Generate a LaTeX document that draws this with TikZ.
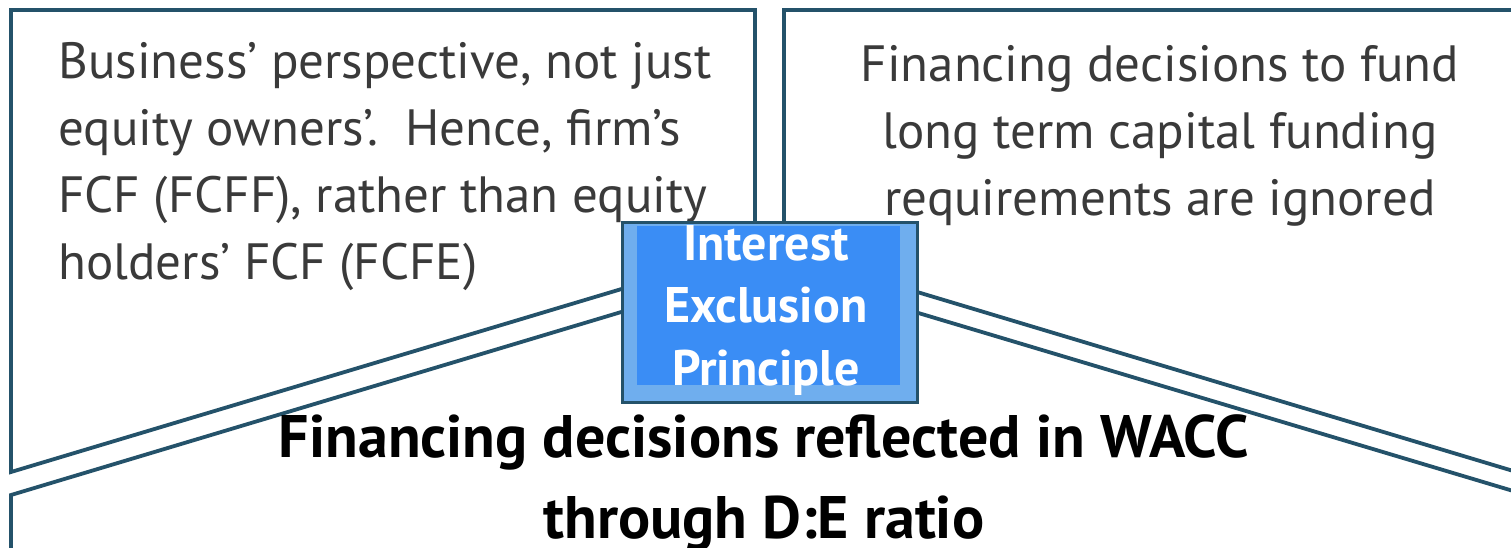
\documentclass[tikz,border=0pt]{standalone}
\usepackage{fontspec}
\setmainfont{PT Sans}
\definecolor{edge}{HTML}{24526A}
\definecolor{bodytext}{HTML}{3A3A3A}
\definecolor{bandblue}{HTML}{6FAEEE}
\definecolor{coreblue}{HTML}{3A8DF5}
\begin{document}
\begin{tikzpicture}[x=0.5pt,y=-0.5pt,
  panel/.style={draw=edge,line width=1.9pt,fill=white,line join=miter},
  bodytxt/.style={font=\fontsize{25.5}{33.5}\selectfont,text=bodytext,inner sep=0pt},
  headtxt/.style={font=\bfseries\fontsize{30}{40.5}\selectfont,text=black,inner sep=0pt,align=center},
  boxtxt/.style={font=\bfseries\fontsize{25}{31.25}\selectfont,text=white,inner sep=0pt,align=center}]
\useasboundingbox (0,0) rectangle (1511,547);
\clip (0,0) rectangle (1511,547);
% three panels converging under the centre box
\draw[panel] (11,10) -- (755,10) -- (755,249) -- (11,472) -- cycle;
\draw[panel] (784,10) -- (1540,10) -- (1540,479) -- (784,252) -- cycle;
\draw[panel] (11,580) -- (11,495) -- (768,268) -- (1540,499) -- (1540,580);
% panel texts (base anchor sits on the last line)
\node[bodytxt,anchor=base west,align=left] (owners) at (58,279)
  {Business’ perspective, not just\\equity owners’.\ \ Hence, firm’s\\FCF (FCFF), rather than equity\\holders’ FCF (FCFE)};
\node[bodytxt,anchor=base,align=center] (funding) at (1160,215)
  {Financing decisions to fund\\long term capital funding\\requirements are ignored};
\node[headtxt,anchor=base] (wacc) at (764,538)
  {Financing decisions reflected in WACC\\through D:E ratio};
% centre box
\node[draw=edge,line width=1.5pt,fill=bandblue,minimum width=295*0.5pt,minimum height=180*0.5pt,inner sep=0pt,anchor=north west] (principle) at (621,221) {};
\fill[coreblue] (637,226) rectangle (900,385);
\node[boxtxt,anchor=base] (label) at (766,385) {Interest\\Exclusion\\Principle};
\end{tikzpicture}
\end{document}
